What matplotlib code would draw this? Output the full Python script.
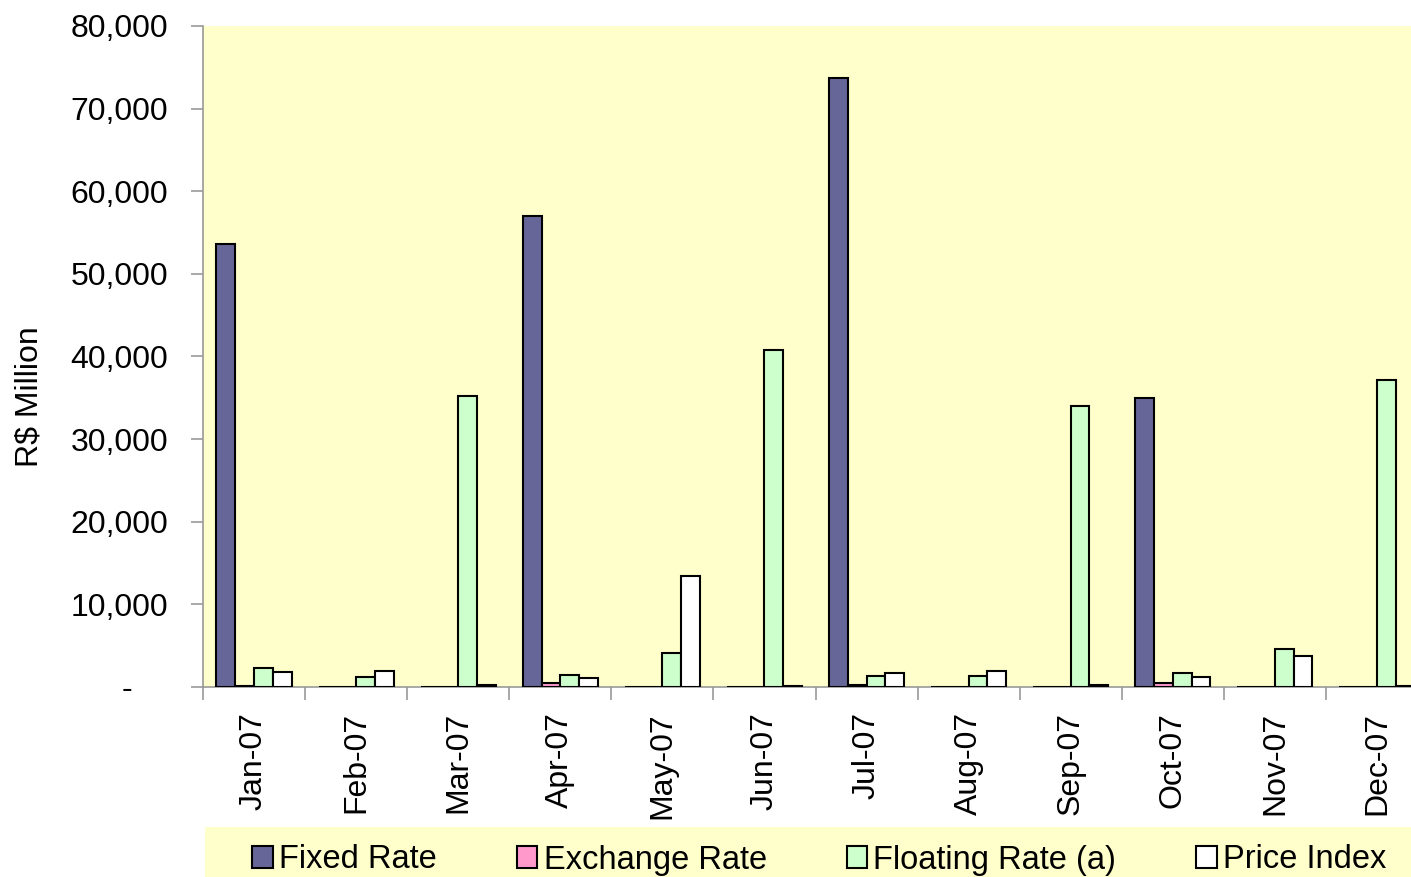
"""
plot.py - monthly issuance by index type, 2007 (R$ million).
Saves out.png.
"""
import matplotlib
matplotlib.use("Agg")
import matplotlib.pyplot as plt
from matplotlib.patches import Rectangle
from matplotlib.ticker import FuncFormatter, MultipleLocator
import numpy as np

plt.rcParams["font.family"] = ["Liberation Sans", "DejaVu Sans"]

MONTHS = ["Jan-07", "Feb-07", "Mar-07", "Apr-07", "May-07", "Jun-07",
          "Jul-07", "Aug-07", "Sep-07", "Oct-07", "Nov-07", "Dec-07"]
FIXED = [53600, 50, 50, 57000, 50, 50, 73700, 50, 50, 35000, 50, 50]
EXCHANGE = [150, 50, 50, 450, 50, 50, 200, 50, 50, 450, 50, 50]
FLOATING = [2300, 1200, 35200, 1450, 4100, 40800, 1300, 1300, 34000, 1700, 4600, 37150]
PRICE = [1800, 1950, 300, 1100, 13400, 100, 1700, 1900, 300, 1200, 3750, 100]

SERIES = [("Fixed Rate", FIXED, "#666699"),
          ("Exchange Rate", EXCHANGE, "#FF99CC"),
          ("Floating Rate (a)", FLOATING, "#CCFFCC"),
          ("Price Index", PRICE, "#FFFFFF")]

W, H = 1411, 877
fig = plt.figure(figsize=(W / 100, H / 100), dpi=100)
ax = fig.add_axes([203 / W, 190 / H, 1225 / W, 661 / H])
ax.set_facecolor("#FFFFCC")

x = np.arange(len(MONTHS))
bw = 0.184
handles = []
for k, (name, vals, col) in enumerate(SERIES):
    b = ax.bar(x + 0.5 + (k - 1.5) * bw, vals, bw, color=col,
               edgecolor="black", linewidth=1.5, label=name, zorder=3)
    handles.append(b)

ax.set_xlim(0, 12)
ax.set_ylim(0, 80000)
ax.yaxis.set_major_locator(MultipleLocator(10000))
# excel accounting style: zero shown as a dash set in from the right
ax.yaxis.set_major_formatter(FuncFormatter(lambda v, p: "-    " if v == 0 else f"{v:,.0f}"))

ax.set_xticks(x + 0.5)
ax.set_xticklabels(MONTHS, rotation=90, fontsize=23)
ax.set_xticks(np.arange(0, 13), minor=True)
ax.tick_params(axis="x", which="major", length=0, pad=18)
ax.tick_params(axis="x", which="minor", length=9, color="#999999", width=1.2)
ax.tick_params(axis="y", length=9, color="#999999", width=1.2, labelsize=23, pad=16)

for s in ["top", "right"]:
    ax.spines[s].set_visible(False)
for s in ["left", "bottom"]:
    ax.spines[s].set_color("#999999")
    ax.spines[s].set_linewidth(1.2)

ax.set_ylabel("R$ Million", fontsize=23)
ax.yaxis.set_label_coords(-0.129, 0.44)

# legend strip
fig.patches.append(Rectangle((205 / W, 0), 1 - 205 / W, 50 / H,
                             transform=fig.transFigure, facecolor="#FFFFCC",
                             edgecolor="none", zorder=0))
leg = fig.legend(handles=handles, loc="center left", ncol=4, frameon=False,
                 bbox_to_anchor=(223 / W, 17 / H), fontsize=23.5,
                 handlelength=0.62, handleheight=0.62, handletextpad=0.2,
                 columnspacing=2.45)

fig.savefig("out.png", dpi=100)
